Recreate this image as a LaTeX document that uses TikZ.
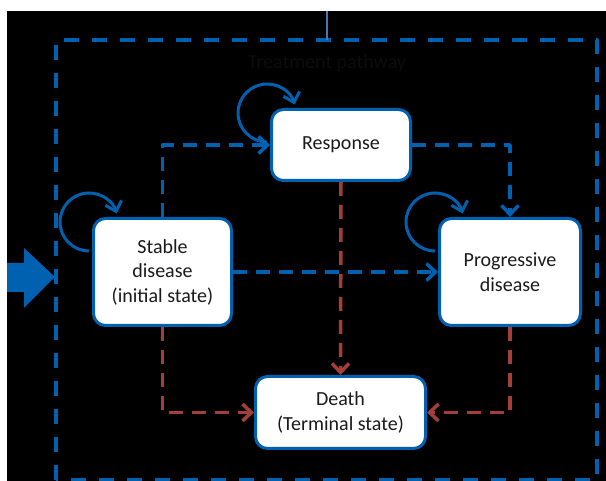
\documentclass[tikz,border=0pt]{standalone}
\usepackage{fontspec}
\setmainfont{Carlito}
\usetikzlibrary{arrows.meta}
\definecolor{pathblue}{RGB}{0,97,176}
\definecolor{deathred}{RGB}{163,62,57}
\definecolor{linkblue}{RGB}{70,120,180}
\definecolor{inkgray}{RGB}{26,26,26}
\definecolor{titleink}{RGB}{12,12,12}
\begin{document}
\begin{tikzpicture}[x=1pt,y=1pt,line join=round,
  state/.style={draw=pathblue,line width=3pt,fill=white,rounded corners=12pt,
    align=center,text=inkgray,font=\fontsize{20}{24.5}\selectfont,inner sep=0pt},
  barb/.style={-{Straight Barb[length=9pt,width=17pt]}},
  flow/.style={barb,pathblue,line width=3.5pt,dash pattern=on 14pt off 9pt},
  exit/.style={barb,deathred,line width=3.5pt,dash pattern=on 14pt off 9pt},
  stay/.style={barb,pathblue,line width=3pt}]
  \useasboundingbox (0,0) rectangle (606,481);
  \fill[black] (7,0) rectangle (606,470);
  % pathway frame and its feed line
  \draw[pathblue,line width=4pt,dash pattern=on 15pt off 13pt] (56,1) rectangle (597,441);
  \coordinate (feed) at (327,470);
  \coordinate (frame) at (327,441);
  \draw[linkblue,line width=2pt] (feed) -- (frame);
  \node[text=titleink,font=\fontsize{20}{24}\selectfont] (title) at (327,418) {Treatment pathway};
  % entry arrow
  \coordinate (entry) at (55,204);
  \fill[pathblue] (7,218) -- (24,218) -- (24,233) -- (entry) -- (24,173) -- (24,189) -- (7,189) -- cycle;
  % states
  \node[state,minimum width=139pt,minimum height=71pt] (resp) at (341,336) {Response};
  \node[state,minimum width=138pt,minimum height=107pt] (stab) at (162.5,209) {Stable\\disease\\(initial state)};
  \node[state,minimum width=141pt,minimum height=107pt] (prog) at (510,209) {Progressive\\disease};
  \node[state,minimum width=170pt,minimum height=72pt] (death) at (340.5,68.5) {Death\\(Terminal state)};
  % transitions between living states
  \draw[flow] (stab.north) |- (resp.west);
  \draw[flow] (stab.east) -- (prog.west);
  \draw[flow] (resp.east) -| (prog.north);
  % transitions to death
  \draw[exit] (resp.south) -- (death.north);
  \draw[exit] (stab.south) |- (death.west);
  \draw[exit] (prog.south) |- (death.east);
  % staying in the same state
  \foreach \n in {resp,stab,prog}
    \draw[stay] ([shift={(-3pt,-34pt)}]\n.north west) arc[start angle=270,end angle=17,radius=29pt];
\end{tikzpicture}
\end{document}
